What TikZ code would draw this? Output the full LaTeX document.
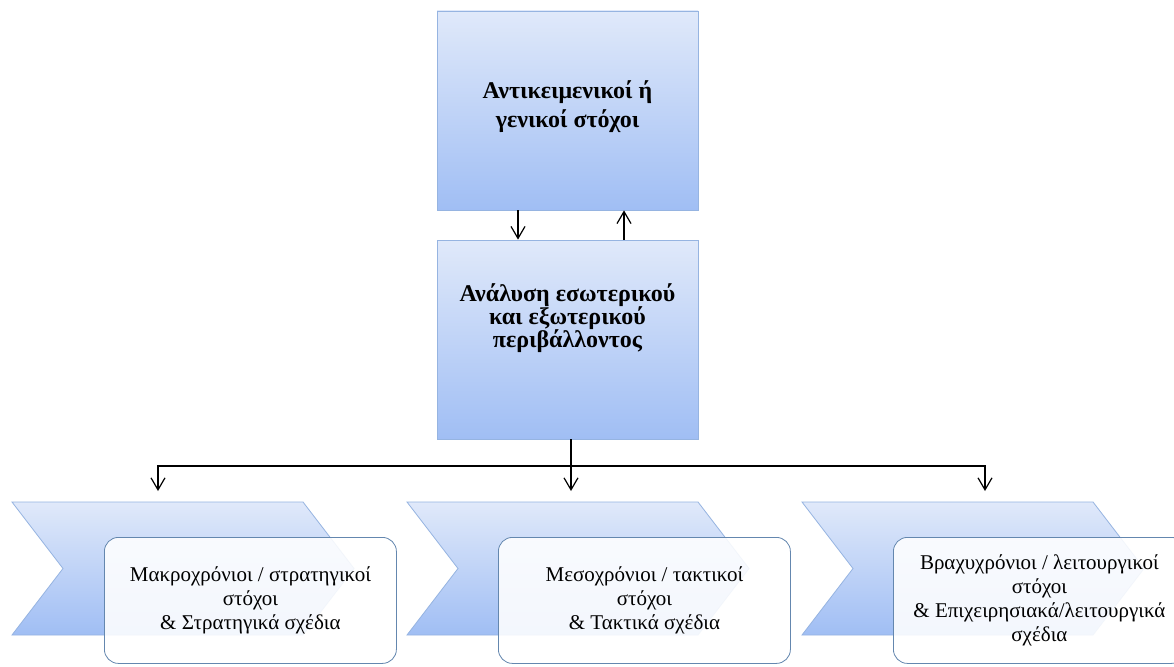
\documentclass[tikz,border=0pt]{standalone}
\usepackage{fontspec}
\setmainfont{Liberation Serif}
\usetikzlibrary{arrows.meta,calc}
\definecolor{gtop}{RGB}{224,233,250}
\definecolor{gbot}{RGB}{160,190,244}
\definecolor{gline}{RGB}{150,180,225}
\definecolor{rline}{RGB}{100,135,175}
\tikzset{
  bigbox/.style={rectangle, draw=gline, line width=0.8pt, top color=gtop, bottom color=gbot, minimum width=261pt, minimum height=199pt, inner sep=0pt},
  bigtext/.style={align=center, font=\bfseries\fontsize{24}{29}\selectfont, inner sep=0pt},
  midtext/.style={align=center, font=\bfseries\fontsize{24}{23}\selectfont, inner sep=0pt},
  chev/.style={draw=gline, line width=0.8pt, top color=gtop, bottom color=gbot},
  rbox/.style={rectangle, rounded corners=14pt, draw=rline, line width=0.8pt, fill=white, fill opacity=0.88, text opacity=1, minimum width=292pt, minimum height=126pt, align=center, font=\fontsize{21}{24}\selectfont, anchor=north west, inner sep=0pt},
  arr/.style={draw=black, line width=1.2pt, -{Straight Barb[length=12pt,width=14pt]}}
}
\begin{document}
\begin{tikzpicture}[x=1pt,y=-1pt]
\useasboundingbox (0,0) rectangle (1174,666);
\clip (0,0) rectangle (1174,666);
\fill[white] (0,0) rectangle (1174,666);
% top and middle boxes
\node[bigbox] (top) at (567.5,110.5) {};
\node[bigtext] (toptext) at (567.5,107) {Αντικειμενικοί ή\\γενικοί στόχοι};
\node[bigbox] (mid) at (567.5,339.5) {};
\node[midtext] (midtext) at (567.5,318) {Ανάλυση εσωτερικού\\και εξωτερικού\\περιβάλλοντος};
% arrows between top and mid
\coordinate (xd) at (518,0);
\coordinate (xu) at (624,0);
\draw[arr] (top.south -| xd) -- (mid.north -| xd);
\draw[arr] (mid.north -| xu) -- (top.south -| xu);
% chevrons
\path[chev] (12,502) -- (303,502) -- (354,568.5) -- (303,635) -- (12,635) -- (63,568.5) -- cycle;
\path[chev] (407,502) -- (698,502) -- (749,568.5) -- (698,635) -- (407,635) -- (458,568.5) -- cycle;
\path[chev] (802,502) -- (1093,502) -- (1144,568.5) -- (1093,635) -- (802,635) -- (853,568.5) -- cycle;
% rounded boxes
\node[rbox] (r1) at (104,537) {Μακροχρόνιοι / στρατηγικοί\\στόχοι\\\& Στρατηγικά σχέδια};
\node[rbox] (r2) at (498,537) {Μεσοχρόνιοι / τακτικοί\\στόχοι\\\& Τακτικά σχέδια};
\node[rbox] (r3) at (893,537) {Βραχυχρόνιοι / λειτουργικοί\\στόχοι\\\& Επιχειρησιακά/λειτουργικά\\σχέδια};
% tree connectors
\coordinate (t1) at (158,491);
\coordinate (t2) at (571,491);
\coordinate (t3) at (985,491);
\coordinate (j) at (571,466);
\draw[line width=1.2pt] (mid.south -| j) -- (j);
\draw[arr] (j) -- (t2);
\draw[arr] (j) -| (t1);
\draw[arr] (j) -| (t3);
\end{tikzpicture}
\end{document}
